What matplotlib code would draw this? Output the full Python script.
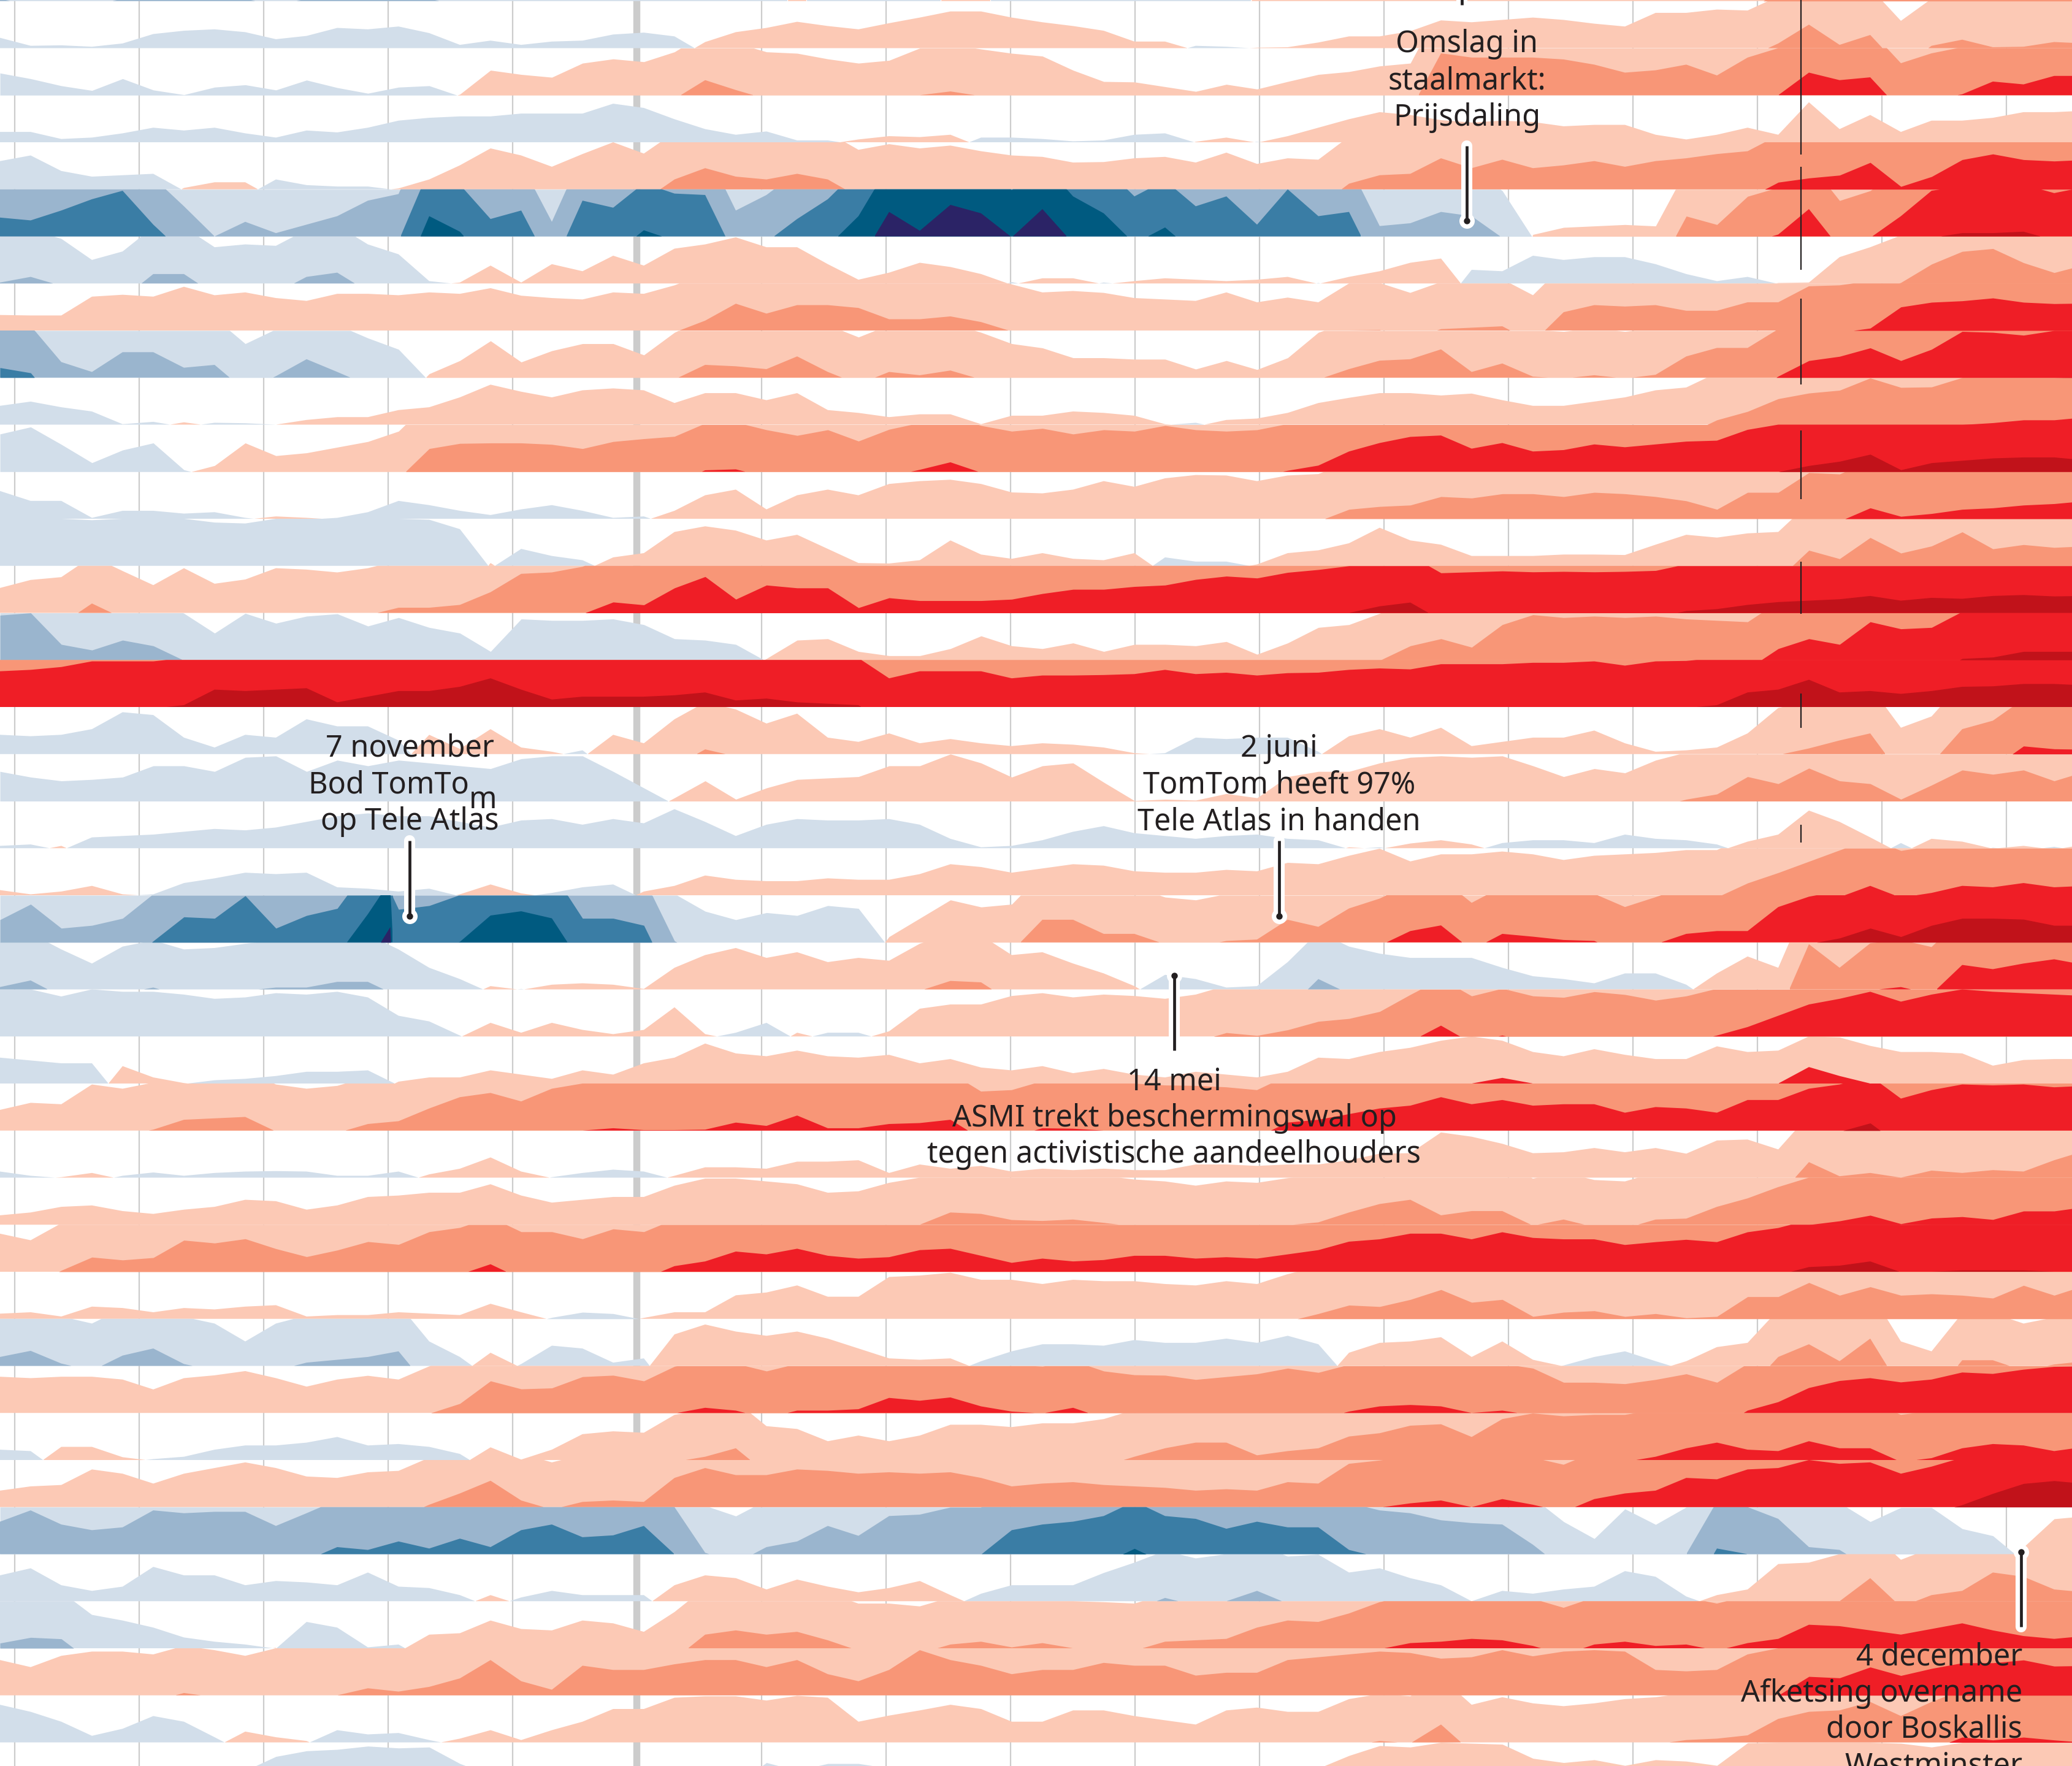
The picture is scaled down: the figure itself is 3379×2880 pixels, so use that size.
import numpy as np
import matplotlib
matplotlib.use("Agg")
import matplotlib.pyplot as plt

xs = np.arange(69) * 50.0   # sample positions along the time axis

r00 = [-105,-90,-90,-90,-105,-110,-105,-105,-105,-90,-105,-105,-105,-105,-105,-90,-90,-90,-90,-95,-90,-90,-90,
       -90,-90,-90,40,-90,-90,-90,-90,40,40,-90,-90,-90,-90,-90,-90,-90,-90,20,20,30,40,60,
       80,80,80,80,80,80,80,80,80,80,80,80,120,120,120,120,120,120,120,120,120,120,120]
r01 = [-22,-5,-6,-3,-10,-30,-37,-40,-34,-19,-26,-43,-40,-46,-32,-7,-16,-7,-14,-16,-29,-33,-25,
       13,34,43,56,47,40,53,65,78,78,65,55,47,37,14,14,-5,-3,1,2,12,25,25,
       36,59,55,60,65,60,52,46,75,75,82,80,110,150,107,128,58,105,118,102,103,113,110]
r02 = [-47,-35,-20,-10,-35,-11,-1,-17,-22,-11,-32,-16,-4,-17,-20,2,53,44,38,68,77,71,92,
       132,111,92,89,77,68,74,100,108,98,89,83,53,29,28,18,8,23,13,29,44,50,62,
       68,189,180,180,180,176,165,148,153,165,142,180,200,248,232,238,168,189,202,229,223,241,241]
r03 = [-22,-22,-7,-10,-19,-31,-25,-31,-19,-10,-25,-21,-31,-46,-52,-55,-55,-61,-61,-61,-82,-73,-49,
       -28,-16,-23,-4,-4,6,13,11,16,-10,-10,-7,-2,-4,-16,-19,1,10,-1,13,31,49,64,
       58,47,42,46,43,34,37,37,16,6,16,31,16,85,28,58,22,46,46,52,64,64,67]
r04 = [-60,-72,-39,-27,-30,-33,3,15,15,-21,-9,-6,-6,2,21,51,87,72,48,75,100,76,121,
       145,127,121,133,121,84,96,87,93,81,72,69,57,58,66,69,57,78,54,66,63,112,130,
       133,166,145,163,145,151,160,148,160,166,175,181,215,224,230,257,206,227,263,275,263,260,263]
r05 = [-240,-234,-255,-279,-297,-225,-164,-100,-131,-107,-125,-143,-176,-190,-343,-310,-237,-255,-131,-276,-261,-313,-291,
       -288,-155,-188,-237,-279,-343,-452,-412,-467,-449,-398,-458,-385,-349,-285,-319,-264,-285,-225,-300,-243,-252,-122,
       -128,-152,-143,-97,4,19,22,25,22,143,125,185,204,258,176,197,243,297,307,307,310,292,305]
r06 = [-102,-114,-95,-50,-68,-120,-120,-77,-83,-80,-114,-123,-83,-62,-5,2,38,2,41,26,59,38,74,
       83,98,77,77,41,8,23,44,35,20,-3,11,11,-2,5,11,8,5,8,14,-1,14,26,
       44,53,-29,-26,-59,-50,-56,-56,-41,-20,-5,-14,1,2,56,77,102,141,168,174,144,123,140]
r07 = [33,32,32,72,76,72,93,75,81,69,63,78,78,75,81,78,90,74,69,66,81,78,96,
       121,157,136,154,154,148,124,124,130,118,98,81,84,80,69,66,63,81,60,70,60,100,101,
       80,103,106,109,75,139,154,151,154,142,142,160,160,194,196,205,250,260,263,269,260,257,258]
r08 = [-221,-210,-133,-112,-154,-154,-121,-127,-72,-103,-139,-112,-84,-60,8,36,78,33,57,72,72,48,96,
       127,124,118,145,112,86,112,105,115,96,72,63,42,42,39,39,18,36,17,42,96,118,136,
       139,160,112,130,102,98,105,98,106,145,163,163,203,236,245,263,236,260,298,296,290,300,301]
r09 = [-40,-49,-37,-28,-1,-6,5,-4,-3,0,10,16,16,31,37,58,85,70,58,73,77,73,46,
       67,67,52,67,31,25,16,22,22,1,19,19,28,25,19,1,-4,10,13,25,46,57,67,
       67,62,66,52,40,40,49,58,73,79,110,128,155,167,173,199,179,180,200,204,210,210,216]
r10 = [-80,-95,-58,-19,-46,-61,-4,13,61,34,40,52,64,86,149,160,161,161,158,149,164,170,175,
       203,205,189,177,189,165,190,204,220,198,186,192,180,189,186,198,189,186,189,202,213,243,261,
       274,277,249,261,243,246,258,252,258,264,266,289,300,313,322,337,304,319,324,329,331,331,325]
r11 = [-59,-38,-38,-2,-17,-17,-11,-14,-2,5,2,-2,-14,-38,-29,-17,-8,-20,-29,-17,-2,-5,17,
       50,62,20,50,62,50,74,80,83,74,56,54,62,80,68,86,93,92,80,92,95,120,126,
       129,147,144,153,153,147,156,153,147,138,120,156,156,198,195,223,205,211,220,223,229,232,238]
r12 = [-100,-100,-100,-97,-100,-100,-100,-92,-90,-100,-100,-100,-100,-100,-98,-78,6,-36,-21,-12,18,27,72,
       84,75,54,66,36,6,5,12,54,24,15,27,15,12,27,-18,-9,-9,3,27,33,48,81,
       54,45,21,21,21,24,24,23,45,66,60,69,72,133,115,160,127,142,172,136,145,139,142]
r13 = [53,70,76,120,89,59,95,62,71,95,92,86,95,111,111,117,144,183,186,198,223,217,253,
       277,229,259,253,253,211,232,226,226,226,229,241,250,250,256,259,271,278,274,286,292,300,314,
       322,285,287,289,287,288,287,288,290,304,308,317,323,326,329,336,326,332,330,336,338,335,336]
r14 = [-195,-200,-133,-121,-142,-130,-99,-57,-99,-78,-93,-98,-72,-90,-69,-57,-18,-87,-84,-84,-87,-75,-45,
       -42,-33,3,42,45,18,9,9,24,51,30,24,36,18,33,33,30,39,12,36,69,75,99,
       130,145,127,175,196,190,193,190,193,187,184,181,224,245,233,281,266,269,303,306,318,318,318]
r15 = [276,279,285,297,297,297,304,337,334,337,340,310,322,334,334,343,361,337,316,322,322,322,325,
       331,314,318,310,307,304,261,276,276,276,261,267,267,268,270,279,270,273,267,272,273,279,282,
       280,291,291,291,294,294,297,288,297,298,304,331,337,358,331,334,328,334,343,344,349,349,346]
r16 = [-41,-38,-41,-53,-89,-83,-35,-14,-41,-35,-74,-59,-59,-29,41,11,53,14,5,-8,41,23,74,
       110,95,65,86,35,26,44,23,32,23,17,23,20,14,2,-2,-35,-32,-35,-35,-5,38,53,
       35,56,17,26,35,35,50,23,5,8,14,44,98,112,129,144,56,80,153,171,217,211,210]
r17 = [-63,-51,-43,-46,-51,-75,-75,-63,-93,-96,-63,-87,-75,-87,-81,-75,-69,-90,-96,-96,-63,-28,7,
       43,4,28,46,49,52,75,75,100,81,51,75,81,40,1,4,2,16,7,52,63,63,81,
       93,96,93,96,75,52,69,60,87,104,115,152,137,170,143,137,104,134,166,157,166,143,163]
r18 = [-5,-8,5,-23,-26,-29,-35,-41,-38,-44,-56,-68,-74,-68,-68,-56,-44,-59,-62,-50,-62,-53,-83,
       -56,-26,-50,-62,-59,-59,-62,-50,-20,-2,-5,-17,-35,-47,-32,-26,-20,-26,-29,-20,-17,2,-2,
       10,17,8,-11,-17,-17,-11,-29,-20,-17,-8,14,29,80,56,23,-11,20,14,-1,5,-3,8]
r19 = [11,2,8,20,2,-2,-26,-36,-48,-45,-48,-17,-14,-8,-14,2,23,4,-5,-17,-23,8,20,
       42,33,30,30,36,33,33,45,66,60,48,57,66,63,51,48,48,54,51,69,66,84,99,
       72,87,87,93,87,75,84,87,90,96,96,126,148,172,196,220,195,205,220,217,226,217,220]
r20 = [-148,-181,-130,-136,-151,-203,-254,-251,-299,-230,-257,-272,-360,-270,-278,-301,-357,-366,-351,-251,-251,-236,-103,
       -66,-48,-63,-57,-78,-72,12,51,90,75,81,148,148,118,118,96,90,103,106,148,133,172,193,
       224,236,184,218,212,205,203,175,196,218,224,224,275,297,309,330,312,336,351,351,349,336,336]
r20_peak_x = [618, 636, 641]
r20_peak = [-395, -433, -295]
r21 = [-105,-119,-85,-55,-91,-104,-85,-88,-97,-104,-104,-116,-116,-85,-46,-22,7,-1,10,13,10,1,46,
       73,88,67,79,58,67,61,97,118,115,73,79,55,34,7,-31,-22,-4,-7,-58,-122,-91,-76,
       -67,-67,-67,-46,-28,-22,-13,-34,-34,-10,34,70,46,196,146,198,205,190,252,243,255,264,252]
r22 = [-100,-100,-85,-100,-95,-95,-89,-80,-83,-92,-89,-95,-83,-44,-32,-2,29,8,29,14,5,14,62,
       5,-8,-29,8,-8,-8,11,59,68,68,86,92,83,89,86,80,89,108,102,114,132,138,153,
       189,223,186,202,186,183,195,189,177,186,202,220,244,268,280,295,274,289,300,295,292,289,286]
r23 = [-55,-49,-43,-43,37,13,1,-7,-10,-16,-25,-25,-28,4,13,13,28,19,10,28,19,43,55,
       85,64,58,70,58,55,61,43,52,34,28,37,22,31,19,13,25,19,13,25,55,52,67,
       76,91,100,91,67,58,73,61,52,52,79,67,70,100,98,80,67,67,64,38,50,52,52]
r23_spill = [0]*49 + [12,0] + [0]*7 + [0,35,16,0] + [0]*7
r24 = [44,59,56,98,89,102,123,126,129,98,89,95,114,120,147,171,180,162,189,200,205,201,201,
       202,217,210,232,205,205,214,216,223,183,186,205,204,200,200,196,195,192,186,217,223,235,247,
       253,271,256,265,253,256,256,238,250,247,238,265,265,289,298,316,268,286,298,296,298,292,295]
r25 = [-13,-4,1,10,-4,-11,-4,-10,-13,-14,-13,-4,-4,-13,7,19,43,13,-1,-10,-17,-13,4,
       22,22,19,34,34,37,10,28,19,25,13,19,16,19,16,16,28,28,25,28,28,37,51,
       52,96,87,72,52,54,63,54,63,51,79,81,60,133,103,110,100,115,110,116,113,137,157]
r26 = [20,26,38,41,29,23,32,38,53,50,32,41,59,62,68,68,86,62,47,53,59,59,83,
       98,98,92,86,68,71,89,100,126,123,110,108,111,104,96,92,83,92,89,99,105,126,144,
       153,120,129,129,98,111,95,92,111,113,138,156,180,200,208,220,202,214,217,211,229,229,238]
r27 = [81,67,103,131,125,130,167,161,170,149,132,146,164,158,185,194,216,185,185,170,191,185,212,
       222,243,237,249,234,228,231,246,249,234,219,228,222,225,234,234,228,231,228,237,246,264,269,
       281,281,269,284,272,269,269,257,263,268,263,284,293,310,313,322,299,300,303,303,303,300,300]
r28 = [11,14,5,26,23,14,23,20,26,29,5,8,8,14,11,8,32,14,-3,-14,-11,2,14,
       14,50,56,71,47,47,89,92,98,83,83,74,83,80,80,74,71,80,74,95,111,129,126,
       141,162,135,141,105,114,117,105,111,102,105,147,147,177,150,168,150,153,150,144,171,150,171]
r29 = [-119,-132,-105,-90,-122,-137,-104,-90,-52,-90,-107,-113,-119,-131,-52,-19,28,-4,-43,-37,-7,-16,67,
       88,73,64,73,58,37,16,13,16,-10,-31,-46,-46,-43,-55,-49,-49,-58,-49,-64,-46,28,49,
       52,61,19,52,13,-1,-19,-31,-10,10,40,49,119,146,110,158,52,31,112,112,90,103,110]
r30 = [77,74,77,77,71,50,74,80,89,74,56,71,79,71,99,120,168,151,153,177,180,168,199,
       211,205,189,205,205,208,232,226,233,214,203,199,211,189,181,180,171,177,183,195,186,203,214,
       217,214,200,205,195,165,165,162,171,183,165,205,223,253,268,274,265,271,286,283,292,298,299]
r31 = [-22,-19,28,28,6,-2,-7,-22,-31,-31,-37,-49,-31,-34,-28,-13,27,1,22,55,61,58,96,
       107,125,72,66,40,52,40,52,75,75,70,78,78,87,107,125,137,137,110,119,125,150,157,
       173,176,149,187,199,193,196,196,207,225,237,222,219,240,225,225,196,204,225,234,231,219,228]
r32 = [35,44,47,80,71,50,71,83,95,83,65,62,74,77,105,129,156,114,95,111,114,111,162,
       183,168,168,180,177,171,174,171,174,162,144,150,153,147,144,141,135,138,135,153,150,192,199,
       208,214,200,217,205,190,217,229,235,262,259,280,283,300,292,295,271,286,305,329,350,356,350]
r33 = [-169,-193,-163,-151,-157,-193,-187,-190,-190,-160,-187,-215,-209,-227,-212,-233,-215,-251,-263,-236,-240,-260,-200,
       -103,-81,-115,-127,-160,-139,-181,-184,-199,-199,-251,-263,-269,-281,-312,-281,-275,-254,-269,-257,-257,-209,-193,
       -187,-172,-166,-163,-120,-69,-33,-96,-63,-100,-212,-200,-175,-115,-109,-69,-99,-99,-54,-39,15,75,81]
r34 = [-55,-70,-34,-22,-31,-73,-55,-55,-34,-43,-40,-34,-61,-31,-28,-13,13,-8,-22,-13,-13,-13,34,
       55,49,25,46,31,19,28,43,13,-16,-34,-34,-34,-60,-82,-107,-91,-100,-122,-95,-99,-61,-70,
       -49,-34,0,-22,-16,-25,-31,-64,-52,-10,13,25,79,82,100,149,88,113,122,161,152,125,119]
r35 = [-111,-123,-120,-71,-59,-44,-23,-14,-8,1,-56,-44,-2,-8,29,32,59,41,38,59,53,35,77,
       129,138,129,135,117,95,95,89,108,114,102,111,100,98,95,114,117,120,144,159,156,174,198,
       211,214,220,217,205,186,208,214,205,208,195,211,220,250,247,238,229,241,253,238,226,220,226]
r36 = [75,60,84,93,93,87,105,96,84,100,100,100,115,108,118,136,175,130,112,163,154,154,166,
       175,175,160,175,145,130,154,196,175,163,145,154,154,169,163,163,142,148,148,175,181,187,193,
       190,178,181,196,183,193,196,193,154,151,154,187,200,240,237,260,242,257,269,269,275,262,263]
r37 = [-80,-65,-44,-14,-29,-56,-44,-11,23,11,3,-26,-17,-20,-5,8,26,5,26,44,71,71,95,
       98,98,89,99,95,44,57,68,80,71,44,44,68,68,56,47,38,68,74,65,65,92,103,
       98,138,80,96,83,77,83,92,96,105,108,115,150,165,168,186,156,186,211,205,211,205,200]
r38 = [-45,-50,-45,-40,-45,-40,-35,-30,-40,-70,-82,-85,-92,-88,-90,-55,-30,-20,-20,-15,-15,-15,-15,
       -10,-10,-57,-40,-55,-55,-45,-30,-20,-15,-10,-10,-10,-10,-10,-10,-10,-10,-10,20,45,72,93,
       90,100,98,96,66,57,63,51,63,60,51,99,100,100,100,100,98,90,100,100,110,120,115]

rows = [r00,r01,r02,r03,r04,r05,r06,r07,r08,r09,r10,r11,r12,r13,r14,r15,r16,r17,r18,r19,
        r20,r21,r22,r23,r24,r25,r26,r27,r28,r29,r30,r31,r32,r33,r34,r35,r36,r37,r38]

reds = ['#FCC9B5', '#F89677', '#EF1E26', '#C1121A', '#8E0B12']
blues = ['#D2DEEA', '#9AB5CE', '#3A7DA5', '#005A80', '#2B2366', '#000000']
INK = '#231F20'
ROW_H = 76.75
FIRST_BASE = 78.5

fig = plt.figure(figsize=(33.8, 28.8), dpi=100)
ax = fig.add_axes([0, 0, 1, 1])
ax.set_xlim(0, 3380)
ax.set_ylim(2880, 0)
ax.axis('off')

for gx in np.arange(24, 3380, 203.0):
    ax.axvline(gx, color='#CCCCCC', lw=1.6, zorder=1)
ax.axvline(1038, color='#CCCCCC', lw=8.2, zorder=1)

xf = np.arange(0, 3401, 1.0)


def draw_row(values, base, z=2, extra_x=(), extra_v=()):
    vals = list(values)
    if len(vals) != len(xs):
        print('length', len(vals))
        vals = (vals + [vals[-1]] * len(xs))[:len(xs)]
    px = np.concatenate([xs, np.array(extra_x, float)])
    pv = np.concatenate([np.array(vals, float), np.array(extra_v, float)])
    order = np.argsort(px)
    v = np.interp(xf, px[order], pv[order]) / 100.0
    for sign, palette in ((1, reds), (-1, blues)):
        part = np.clip(sign * v, 0, None)
        for b, col in enumerate(palette):
            frac = np.clip(part - b, 0, 1)
            if frac.max() <= 0:
                continue
            ax.fill_between(xf, base, base - frac * ROW_H, where=frac > 0,
                            color=col, lw=0, zorder=z + b * 0.01)


for k, vals in enumerate(rows):
    if k == 20:
        draw_row(vals, FIRST_BASE + (k - 1) * ROW_H, extra_x=r20_peak_x, extra_v=r20_peak)
    else:
        draw_row(vals, FIRST_BASE + (k - 1) * ROW_H)
spill = np.interp(xf, xs, r23_spill) / 100.0
base23 = FIRST_BASE + 22 * ROW_H
ax.fill_between(xf, base23, base23 - spill * ROW_H, where=spill > 0, color=reds[2], lw=0, zorder=2.5)

# vertical event line
for y0, y1 in [(0, 252), (272, 440), (487, 627), (702, 814), (916, 1001), (1131, 1187), (1345, 1374)]:
    ax.plot([2937, 2937], [y0, y1], color=INK, lw=1.6, solid_capstyle='butt', zorder=4)


def pin(x, y_from, y_to, dot=True):
    ax.plot([x, x], [y_from, y_to], color='white', lw=13, solid_capstyle='round', zorder=5)
    if dot:
        ax.plot([x], [y_to], 'o', color='white', ms=18, mew=0, zorder=5)
    ax.plot([x, x], [y_from, y_to], color=INK, lw=3.4, solid_capstyle='butt', zorder=6)
    if dot:
        ax.plot([x], [y_to], 'o', color=INK, ms=7.5, mew=0, zorder=6)


pin(2392, 238, 360)
pin(2384, -10, 8, dot=False)
pin(668, 1371, 1494)
pin(2086, 1371, 1494)
pin(1915, 1713, 1591)
pin(3296, 2653, 2531)

FONT = dict(family='Noto Sans', fontsize=35, color=INK, zorder=7, va='center')


def label(x, ys, lines, ha='center'):
    for y, s in zip(ys, lines):
        ax.text(x, y + 3, s, ha=ha, **FONT)


label(2392, [69, 129, 189], ['Omslag in', 'staalmarkt:', 'Prijsdaling'])
label(668, [1218, 1337], ['7 november', 'op Tele Atlas'])
ax.text(765, 1281, 'Bod TomTo', ha='right', **FONT)
ax.text(765, 1305, 'm', ha='left', **FONT)
label(2086, [1218, 1278, 1337], ['2 juni', 'TomTom heeft 97%', 'Tele Atlas in handen'])
label(1915, [1761, 1821, 1880], ['14 mei', 'ASMI trekt beschermingswal op', 'tegen activistische aandeelhouders'])
label(3298, [2699, 2759, 2818, 2878], ['4 december', 'Afketsing overname', 'door Boskallis', 'Westminster'], ha='right')

fig.savefig('out.png', dpi=100)
